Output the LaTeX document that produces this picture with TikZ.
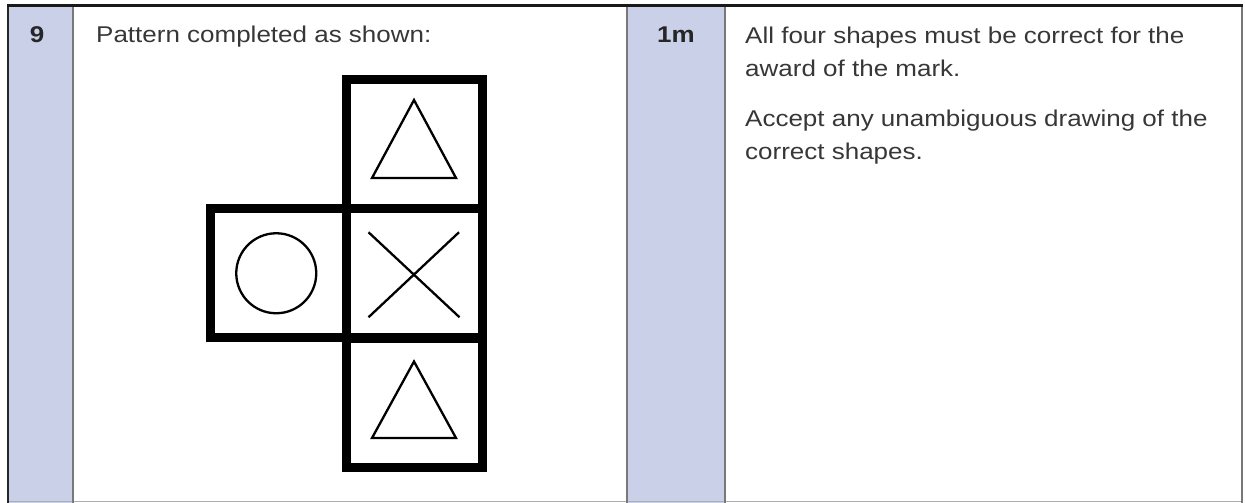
\documentclass[tikz,border=0pt]{standalone}
\usepackage{fontspec}
\setmainfont{Liberation Sans}[FakeStretch=1.14]
\definecolor{colblue}{RGB}{201,208,232}
\definecolor{txtgray}{RGB}{55,55,55}
\definecolor{rulegray}{RGB}{120,120,120}
\tikzset{
  cell/.style={draw=black, line width=9pt, minimum width=136pt, minimum height=129pt, inner sep=0pt, outer sep=0pt},
  thin shape/.style={draw=black, line width=2.3pt},
  bodytext/.style={anchor=base west, inner sep=0pt, text=txtgray, font=\fontsize{22.8}{33}\selectfont},
  headtext/.style={anchor=base, inner sep=0pt, text=black!85, font=\fontsize{22.8}{33}\selectfont\bfseries},
}
\begin{document}
\begin{tikzpicture}[x=1pt,y=-1pt]
\useasboundingbox (0,0) rectangle (1245,503);
% table background
\fill[colblue] (8,6) rectangle (73,503);
\fill[colblue] (627,6) rectangle (725,503);
\draw[rulegray!60, line width=1pt] (8,501) -- (1242,501);
\draw[black!85, line width=2pt] (8,6) -- (8,503);
\draw[rulegray, line width=1.2pt] (73,6) -- (73,503);
\draw[rulegray, line width=1.2pt] (627,6) -- (627,503);
\draw[rulegray, line width=1.2pt] (725,6) -- (725,503);
\draw[rulegray, line width=1.2pt] (1242,6) -- (1242,503);
\draw[black!90, line width=3pt] (7,6) -- (1243,6);
% texts
\node[headtext] (num) at (37,43) {9};
\node[bodytext] (desc) at (96,43) {Pattern completed as shown:};
\node[headtext] (mark) at (676,43) {1m};
\node[bodytext] (c1) at (745,44) {All four shapes must be correct for the};
\node[bodytext] (c2) at (745,77) {award of the mark.};
\node[bodytext] (c3) at (745,126) {Accept any unambiguous drawing of the};
\node[bodytext] (c4) at (745,159) {correct shapes.};
% net
\node[cell] (top) at (414,144) {};
\node[cell] (mid) at (414,273.25) {};
\node[cell] (bot) at (414,402.5) {};
\node[cell] (left) at (278.25,273.25) {};
% shapes
\draw[thin shape, line join=miter] ([shift={(0,-44)}]top.center) -- ([shift={(42,34)}]top.center) -- ([shift={(-42,34)}]top.center) -- cycle;
\draw[thin shape, line join=miter] ([shift={(0,-41)}]bot.center) -- ([shift={(42,35.5)}]bot.center) -- ([shift={(-42,35.5)}]bot.center) -- cycle;
\draw[thin shape] ([shift={(-2,0)}]left.center) circle[radius=40];
\draw[thin shape] ([shift={(-45.5,-41)}]mid.center) -- ([shift={(45.5,44)}]mid.center);
\draw[thin shape] ([shift={(45,-41)}]mid.center) -- ([shift={(-45.5,44)}]mid.center);
\end{tikzpicture}
\end{document}
